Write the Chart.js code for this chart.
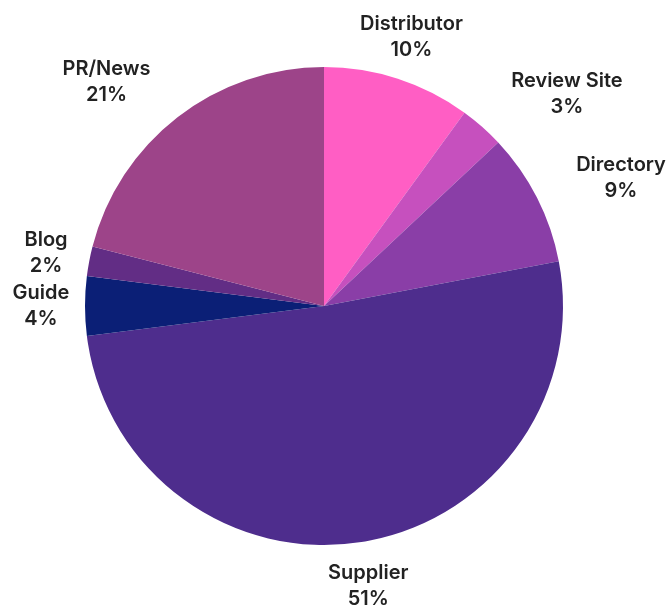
<!DOCTYPE html>
<html>
<head>
<meta charset="utf-8">
<script src="https://cdn.jsdelivr.net/npm/chart.js@4/dist/chart.umd.min.js"></script>
<style>
  html, body { margin: 0; padding: 0; background: #ffffff; }
  #wrap { width: 671px; height: 608px; position: relative; }
</style>
</head>
<body>
<div id="wrap"><canvas id="c" width="671" height="608"></canvas></div>
<script>
const categories = ["Distributor", "Review Site", "Directory", "Supplier", "Guide", "Blog", "PR/News"];
const shares = [10, 3, 9, 51, 4, 2, 21];
const sliceColors = ["#FF5EC4", "#C650BE", "#8A3EA7", "#4E2D8D", "#0B1F76", "#622D85", "#9D4489"];

const outsideLabels = {
  id: "outsideLabels",
  afterDatasetsDraw(chart) {
    const ctx = chart.ctx;
    const meta = chart.getDatasetMeta(0);
    const ds = chart.data.datasets[0];
    ctx.save();
    ctx.font = "600 20px Inter, 'Noto Sans', sans-serif";
    ctx.fillStyle = "#222222";
    ctx.textBaseline = "middle";
    ctx.textAlign = "center";
    const lineH = 26;
    meta.data.forEach((arc, i) => {
      const p = arc.getProps(["x", "y", "startAngle", "endAngle", "outerRadius"], true);
      const mid = (p.startAngle + p.endAngle) / 2;
      const dx = Math.cos(mid), dy = Math.sin(mid);
      const r = p.outerRadius + 44;
      const ax = p.x + dx * r;
      const ay = p.y + dy * r;
      const lines = [chart.data.labels[i], ds.data[i] + "%"];
      const w = Math.max(...lines.map(t => ctx.measureText(t).width));
      const adx = Math.abs(dx);
      let cx = ax;
      if (adx > 0.4 && adx < 0.95) cx = dx > 0 ? ax + w / 2 : ax - w / 2;
      lines.forEach((t, k) => {
        ctx.fillText(t, cx, ay + (k - 0.5) * lineH);
      });
    });
    ctx.restore();
  }
};

new Chart(document.getElementById("c"), {
  type: "pie",
  data: {
    labels: categories,
    datasets: [{
      data: shares,
      backgroundColor: sliceColors,
      borderWidth: 0
    }]
  },
  options: {
    responsive: false,
    animation: false,
    layout: { padding: { top: 67, bottom: 63, left: 0, right: 23 } },
    plugins: {
      legend: { display: false },
      tooltip: { enabled: false }
    }
  },
  plugins: [outsideLabels]
});
</script>
</body>
</html>
